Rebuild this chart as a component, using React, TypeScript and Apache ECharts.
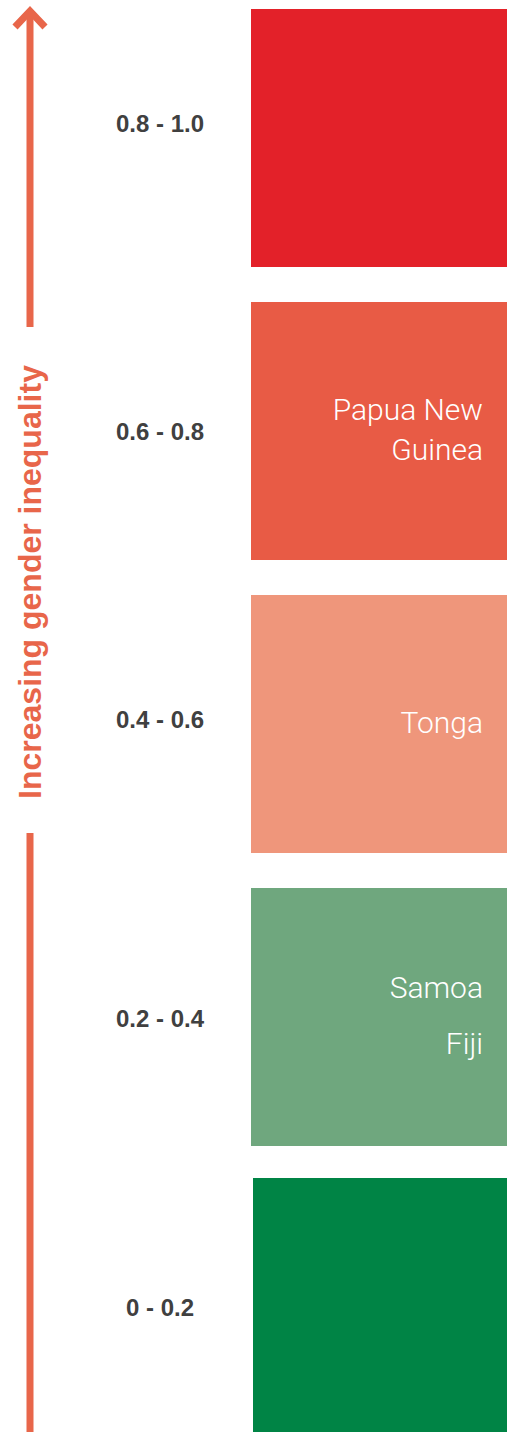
import React, { useEffect, useRef } from "react";
import * as echarts from "echarts";

// Gender inequality bands, bottom to top
const categories = ["0 - 0.2", "0.2 - 0.4", "0.4 - 0.6", "0.6 - 0.8", "0.8 - 1.0"];
const bandValues = [1, 1, 1, 1, 1];
const bandColors = ["#008445", "#6FA77E", "#EF967B", "#E85B45", "#E32129"];
const countries: string[][] = [[], ["Samoa", "Fiji"], ["Tonga"], ["Papua New\nGuinea"], []];
const axisTitle = "Increasing gender inequality";

const ARROW = "#E8664A";
const HALF = 129 / 293; // half block height in band units
const LABEL_X = (160 - 251) / 256; // category label centre, in x units
const LABEL_NUDGE = [-3, 1, -5, 0, -15];

export default function App() {
  const ref = useRef<HTMLDivElement>(null);
  useEffect(() => {
    if (!ref.current) return;
    const chart = echarts.init(ref.current, undefined, { renderer: "svg" });
    const data = categories.map((c, i) => [i, bandValues[i]]);
    chart.setOption({
      animation: false,
      grid: { left: 251, right: 0, top: 0, bottom: 0 },
      xAxis: { type: "value", min: 0, max: 1, show: false },
      yAxis: { type: "value", min: 4 - (1432 - 138) / 293, max: 4 + 138 / 293, show: false },
      series: [
        {
          type: "custom",
          clip: false,
          data,
          encode: { x: 1, y: 0 },
          renderItem: (params: any, api: any) => {
            const idx = api.value(0);
            const val = api.value(1);
            const tl = api.coord([0, idx + HALF]);
            const br = api.coord([val, idx - HALF]);
            const center = api.coord([val, idx]);
            const lab = api.coord([LABEL_X, idx]);
            const names = countries[idx];
            const shiftX = idx === 0 ? 2 : 0;
            const shiftY = idx === 0 ? -3 : 0;
            const children: any[] = [
              {
                type: "rect",
                shape: {
                  x: tl[0] + shiftX,
                  y: tl[1] + shiftY,
                  width: br[0] - tl[0] - shiftX,
                  height: br[1] - tl[1],
                },
                style: { fill: bandColors[idx] },
              },
              {
                type: "text",
                x: lab[0],
                y: lab[1] + LABEL_NUDGE[idx],
                style: {
                  text: categories[idx],
                  fill: "#404040",
                  fontFamily: "Liberation Sans",
                  fontWeight: "bold",
                  fontSize: 24,
                  align: "center",
                  verticalAlign: "middle",
                },
              },
            ];
            if (names.length) {
              children.push({
                type: "text",
                x: br[0] - 24,
                y: center[1] - 2,
                style: {
                  text: names.join("\n"),
                  fill: "#FFFFFF",
                  fontFamily: "Roboto",
                  fontWeight: 300,
                  fontSize: 30,
                  lineHeight: names.length > 1 ? 56 : 40,
                  align: "right",
                  verticalAlign: "middle",
                },
              });
            }
            return { type: "group", children };
          },
        },
      ],
      graphic: [
        {
          type: "line",
          shape: { x1: 30, y1: 12, x2: 30, y2: 327 },
          style: { stroke: ARROW, lineWidth: 7 },
        },
        {
          type: "polyline",
          shape: { points: [[15, 27], [30, 11], [45, 27]] },
          style: { stroke: ARROW, lineWidth: 7, fill: null, lineJoin: "miter" },
        },
        {
          type: "line",
          shape: { x1: 30, y1: 833, x2: 30, y2: 1432 },
          style: { stroke: ARROW, lineWidth: 7 },
        },
        {
          type: "text",
          x: 30,
          y: 582,
          rotation: Math.PI / 2,
          style: {
            text: axisTitle,
            fill: ARROW,
            fontFamily: "Liberation Sans",
            fontWeight: "bold",
            fontSize: 32,
            align: "center",
            verticalAlign: "middle",
          },
        },
      ],
    });
    return () => chart.dispose();
  }, []);
  return (
    <div
      ref={ref}
      style={{ position: "absolute", left: 0, top: 0, width: 507, height: 1432, background: "#fff" }}
    />
  );
}
